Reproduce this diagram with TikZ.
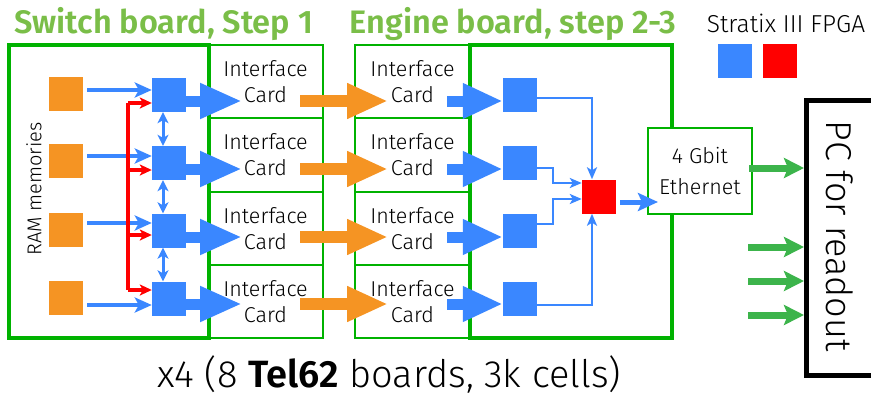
\documentclass[tikz,border=0pt]{standalone}
\usepackage{fontspec}
\setmainfont{Fira Sans Light}[BoldFont={Fira Sans SemiBold}]
\usetikzlibrary{arrows.meta,calc}
\definecolor{fblue}{RGB}{58,135,255}
\definecolor{forange}{RGB}{245,148,35}
\definecolor{fred}{RGB}{255,0,0}
\definecolor{bgreen}{RGB}{0,178,0}
\definecolor{tgreen}{RGB}{122,190,72}
\definecolor{agreen}{RGB}{60,180,75}
\tikzset{
  ramsq/.style={fill=forange, minimum size=34pt, inner sep=0pt},
  fpgasq/.style={fill=fblue, minimum size=34pt, inner sep=0pt},
  redsq/.style={fill=fred, minimum size=34pt, inner sep=0pt},
  card/.style={draw=bgreen, line width=2.5pt, minimum width=115pt, minimum height=73pt, inner sep=0pt, align=center, font=\fontsize{21.5}{26}\selectfont},
  board/.style={draw=bgreen, line width=4.5pt},
  title/.style={text=tgreen, font=\bfseries\fontsize{32.5}{32.5}\selectfont, inner sep=0pt, anchor=base},
  thinarrow/.style={fblue, line width=4pt, -{Stealth[length=17pt,width=15pt,inset=4pt]}},
  redarrow/.style={fred, line width=3.5pt, -{Stealth[length=12pt,width=11pt,inset=3pt]}},
  redline/.style={fred, line width=3.5pt},
  dblarrow/.style={fblue, line width=3pt, {Stealth[length=11pt,width=11pt,inset=3pt]}-{Stealth[length=11pt,width=11pt,inset=3pt]}},
  bigblue/.style={fblue, line width=11pt, -{Triangle[length=42pt,width=33pt]}},
  bigorange/.style={forange, line width=12pt, -{Triangle[length=41pt,width=33pt]}},
  bigblueb/.style={fblue, line width=11pt, -{Triangle[length=40pt,width=33pt]}},
  linkarrow/.style={fblue, line width=2.5pt, -{Stealth[length=12pt,width=10pt,inset=3pt]}},
  etharrow/.style={fblue, line width=5pt, -{Stealth[length=20pt,width=18pt,inset=4pt]}},
  greenarrow/.style={agreen, line width=7pt, -{Stealth[length=20pt,width=20pt,inset=4pt]}},
}
\begin{document}
\begin{tikzpicture}[x=1pt,y=-1pt]
\useasboundingbox (0,0) rectangle (871,402);
\clip (0,0) rectangle (871,402);

% titles
\node[title] (t1) at (163.5,33) {Switch board, Step 1};
\node[title] (t2) at (513,33) {Engine board, step 2-3};
\node[anchor=base, inner sep=0pt, font=\fontsize{24.5}{24.5}\selectfont] (leg) at (786,32) {Stratix III FPGA};
\node[fpgasq] (legb) at (735,60.5) {};
\node[redsq] (legr) at (780,60.5) {};

% boards
\draw[board] (9,45) rectangle (209,338);
\draw[board] (470,45) rectangle (672,338);

% cards
\foreach \i/\cy/\h in {1/81.5/73,2/155/74,3/228.5/73,4/301.5/73}{
  \node[card, minimum height=\h pt] (ic\i) at (265.5,\cy) {Interface\\Card};
  \node[card, minimum height=\h pt] (ie\i) at (412.5,\cy) {Interface\\Card};
}

% ethernet
\node[draw=bgreen, line width=2.5pt, fill=white, minimum width=104pt, minimum height=86pt, inner sep=0pt, align=center, font=\fontsize{21.5}{31}\selectfont] (eth) at (700,171) {4 Gbit\\Ethernet};

% label RAM
\node[rotate=90, inner sep=0pt, font=\fontsize{20}{20}\selectfont] (ramlbl) at (34,189) {RAM memories};

% squares
\foreach \i/\oy/\by in {1/94/95,2/161/163,3/230/230.5,4/298/298.5}{
  \node[ramsq] (ram\i) at (66,\oy) {};
  \node[fpgasq] (sw\i) at (169,\by) {};
  \node[fpgasq] (en\i) at (520,\by) {};
}
\node[redsq] (red) at (599,196.5) {};

% thin arrows RAM -> switch FPGA
\foreach \i/\ty in {1/90,2/156,3/223,4/305}{
  \draw[thinarrow, shorten <=4pt] (ram\i.east |- 0,\ty) -- (sw\i.west |- 0,\ty);
}

% red distribution
\coordinate (rtop) at (128,103);
\coordinate (rbot) at (128,290);
\coordinate (r2) at (128,170);
\coordinate (r3) at (128,235);
\draw[redline] (rtop) -- (rbot);
\draw[redarrow] (rtop) -- (sw1.west |- rtop);
\draw[redarrow] (r2) -- (sw2.west |- r2);
\draw[redarrow] (r3) -- (sw3.west |- r3);
\draw[redarrow] (rbot) -- (sw4.west |- rbot);

% double arrows
\coordinate (dx) at (163,0);
\draw[dblarrow] (sw1.south -| dx) -- (sw2.north -| dx);
\draw[dblarrow] (sw2.south -| dx) -- (sw3.north -| dx);
\draw[dblarrow] (sw3.south -| dx) -- (sw4.north -| dx);

% big arrows
\foreach \i/\y in {1/101,2/169,3/237,4/304}{
  \coordinate (tb\i) at (242,\y);
  \coordinate (os\i) at (300,\y);
  \coordinate (ot\i) at (388,\y);
  \coordinate (bs\i) at (447,\y);
  \draw[bigblue] (sw\i.east |- tb\i) -- (tb\i);
  \draw[bigorange] (os\i) -- (ot\i);
  \draw[bigblueb] (bs\i) -- (en\i.west |- bs\i);
}

% engine links to red FPGA
\coordinate (lx1) at (592,0);
\coordinate (lx2) at (553,0);
\coordinate (ly2) at (0,183);
\coordinate (ly3) at (0,199);
\draw[linkarrow] (en1.east |- 0,98) -| (red.north -| lx1);
\draw[linkarrow] (en2.east |- 0,168) -| (lx2 |- ly2) -- (red.west |- ly2);
\draw[linkarrow] (en3.east |- 0,224) -| (lx2 |- ly3) -- (red.west |- ly3);
\draw[linkarrow] (en4.east |- 0,305) -| (red.south -| lx1);

% red -> ethernet
\draw[etharrow, shorten <=4pt] (red.east |- 0,202) -- (658,202);

% PC box
\node[draw=black, line width=4.5pt, minimum width=120pt, minimum height=275pt, inner sep=0pt, anchor=north west] (pc) at (804,98) {};
\node[rotate=-90, inner sep=0pt, font=\fontsize{36}{36}\selectfont] (pclbl) at (840,236) {PC for readout};

% green arrows
\coordinate (g2) at (748,247);
\coordinate (g3) at (748,281);
\coordinate (g4) at (748,315);
\draw[greenarrow, shorten <=-4pt] (eth.east |- 0,168) -- (pc.west |- 0,168);
\draw[greenarrow] (g2) -- (pc.west |- g2);
\draw[greenarrow] (g3) -- (pc.west |- g3);
\draw[greenarrow] (g4) -- (pc.west |- g4);

% caption
\node[anchor=base, inner sep=0pt, font=\fontsize{38}{38}\selectfont] (cap) at (389.5,387) {x4 (8 \textbf{Tel62} boards, 3k cells)};
\end{tikzpicture}
\end{document}
